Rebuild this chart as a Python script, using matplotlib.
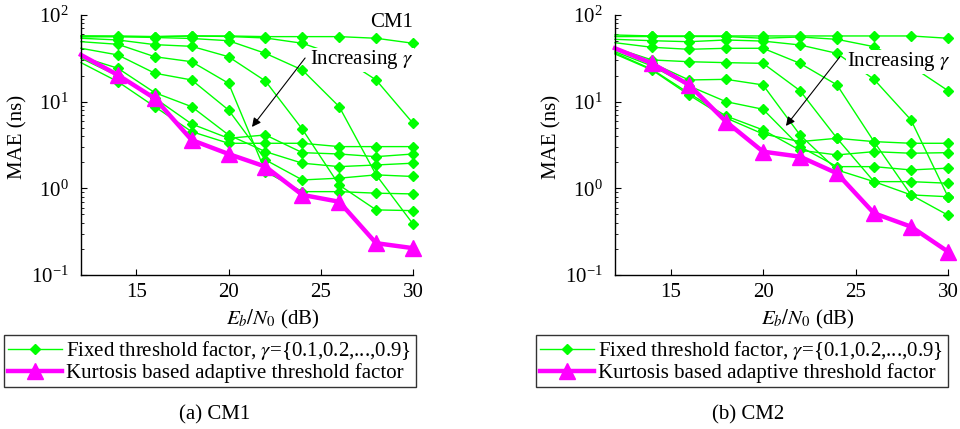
import matplotlib
matplotlib.use('Agg')
import matplotlib.pyplot as plt
from matplotlib.ticker import FixedLocator, LogLocator, NullFormatter

plt.rcParams['font.family'] = ['Liberation Serif', 'DejaVu Serif']
plt.rcParams['mathtext.fontset'] = 'stix'

# ---------------- data ----------------
snr_db = [12, 14, 16, 18, 20, 22, 24, 26, 28, 30]
x_ticks = [15, 20, 25, 30]

# CM1: fixed threshold factor curves (gamma = 0.1 ... 0.9), MAE in ns
cm1_fixed = [
    [57.3, 57.3, 56.3, 57.3, 57.3, 56.3, 56.3, 56.3, 53.9, 47.2],
    [57.3, 56.3, 56.3, 57.3, 56.5, 54.3, 47.2, 33.6, 17.8, 5.63],
    [55.8, 56.3, 55.0, 53.6, 50.5, 36.1, 23.2, 8.75, 1.43, 0.388],
    [53.9, 51.5, 45.5, 43.5, 33.0, 17.3, 4.81, 1.09, 0.564, 0.553],
    [49.2, 45.9, 33.0, 28.9, 16.3, 1.56, 0.916, 0.916, 0.879, 0.862],
    [41.3, 34.6, 21.3, 17.8, 8.01, 2.13, 1.25, 1.31, 1.43, 1.37],
    [33.0, 24.3, 12.7, 8.75, 4.13, 2.65, 1.95, 1.78, 1.86, 1.95],
    [31.7, 19.8, 11.0, 5.53, 3.78, 4.13, 2.58, 2.49, 2.32, 2.49],
    [28.2, 17.0, 8.75, 4.51, 3.31, 3.31, 3.31, 3.03, 3.03, 3.03],
]
cm1_kurtosis = [34.6, 20.3, 10.9, 3.61, 2.49, 1.78, 0.84, 0.70, 0.233, 0.204]

# CM2
cm2_fixed = [
    [58.8, 57.3, 57.3, 57.3, 57.3, 57.3, 57.3, 57.3, 57.3, 53.9],
    [56.3, 56.5, 56.5, 56.5, 53.9, 55.8, 52.4, 43.1, 25.8, 13.4],
    [52.4, 50.5, 49.2, 51.5, 50.0, 45.1, 36.1, 18.1, 6.15, 0.80],
    [47.9, 42.4, 40.2, 41.3, 41.3, 27.7, 15.6, 3.46, 0.84, 0.49],
    [41.6, 30.3, 28.9, 28.2, 27.7, 13.4, 3.78, 1.195, 0.84, 0.80],
    [39.5, 27.9, 17.8, 18.1, 15.6, 4.13, 1.63, 1.195, 1.195, 1.145],
    [37.7, 25.8, 15.2, 10.0, 8.17, 3.03, 1.78, 1.78, 1.63, 1.71],
    [36.5, 23.6, 12.5, 6.84, 4.72, 2.75, 2.43, 2.65, 2.54, 2.58],
    [35.5, 23.2, 11.95, 6.49, 4.24, 3.46, 3.78, 3.46, 3.31, 3.31],
]
cm2_kurtosis = [41.3, 27.7, 15.6, 5.88, 2.65, 2.32, 1.49, 0.516, 0.361, 0.186]

legend_labels = [r'Fixed threshold factor, $\gamma$={0.1,0.2,...,0.9}',
                 'Kurtosis based adaptive threshold factor']
captions = ['(a) CM1', '(b) CM2']

# ---------------- style ----------------
GREEN = '#00ff00'
MAGENTA = '#ff00ff'
FS = 15

fig = plt.figure(figsize=(9.6, 4.29), dpi=100)

W, H = 960.0, 429.0
axes_px = [(81, 332), (615, 333)]
top_px, bot_px = 15, 275

panels = [(cm1_fixed, cm1_kurtosis), (cm2_fixed, cm2_kurtosis)]
arrows = [((24.15, 31.9), (21.27, 5.11), (24.42, 30.3)),
          ((24.16, 33.0), (21.24, 5.25), (24.52, 28.9))]
legend_px = [4, 536]
caption_px = [215, 748]

for i, (fixed, kurt) in enumerate(panels):
    left, width = axes_px[i]
    ax = fig.add_axes([left / W, 1 - bot_px / H, width / W, (bot_px - top_px) / H])
    hg = None
    for curve in fixed:
        h, = ax.plot(snr_db, curve, color=GREEN, lw=1.0, marker='D', ms=5.5,
                     markevery=list(range(1, len(snr_db))), clip_on=False, zorder=2)
        if hg is None:
            hg = h
    hm, = ax.plot(snr_db, kurt, color=MAGENTA, lw=3.2, marker='^', ms=12,
                  markevery=list(range(1, len(snr_db))), clip_on=False, zorder=2.5)

    ax.set_yscale('log')
    ax.set_xlim(12, 30)
    ax.set_ylim(0.1, 100)
    ax.xaxis.set_major_locator(FixedLocator(x_ticks))
    ax.yaxis.set_major_locator(LogLocator(base=10, numticks=10))
    ax.yaxis.set_minor_locator(LogLocator(base=10, subs=range(2, 10), numticks=20))
    ax.yaxis.set_minor_formatter(NullFormatter())
    for s in ['top', 'right']:
        ax.spines[s].set_visible(False)
    for s in ['left', 'bottom']:
        ax.spines[s].set_linewidth(1.0)
    ax.tick_params(axis='both', which='major', direction='in', length=4,
                   labelsize=FS, width=0.8)
    ax.tick_params(axis='y', which='major', pad=9)
    ax.tick_params(axis='x', which='major', pad=6)
    ax.tick_params(axis='y', which='minor', direction='in', length=2, width=0.6)

    ax.set_ylabel('MAE (ns)', fontsize=FS)
    ax.yaxis.set_label_coords(-0.16, 0.53)
    ax.set_xlabel(r'$E_b/N_0$ (dB)', fontsize=FS)
    ax.xaxis.set_label_coords(0.578, -0.125)

    tail, tip, txt = arrows[i]
    ax.annotate('', xy=tip, xytext=tail,
                arrowprops=dict(arrowstyle='-|>', color='black', lw=0.8,
                                mutation_scale=13, shrinkA=0, shrinkB=0),
                zorder=4)
    ax.text(txt[0], txt[1], r'Increasing $\gamma$', fontsize=FS, ha='left', va='center',
            bbox=dict(facecolor='white', edgecolor='none', pad=0.5), zorder=3)
    if i == 0:
        ax.text(1.0, 0.973, 'CM1', transform=ax.transAxes, fontsize=FS,
                ha='right', va='center')

    leg = fig.legend([hg, hm], legend_labels, loc='upper left',
                     bbox_to_anchor=(legend_px[i] / W, 1 - 335 / H),
                     bbox_transform=fig.transFigure, frameon=True, fancybox=False,
                     edgecolor='black', fontsize=FS, handlelength=2.6,
                     borderpad=0.2, handletextpad=0.2, labelspacing=0.05,
                     borderaxespad=0, numpoints=1)
    leg.get_frame().set_linewidth(1.0)

    fig.text(caption_px[i] / W, 1 - 415 / H, captions[i], fontsize=FS,
             ha='center', va='center')

fig.savefig('out.png', dpi=100)
